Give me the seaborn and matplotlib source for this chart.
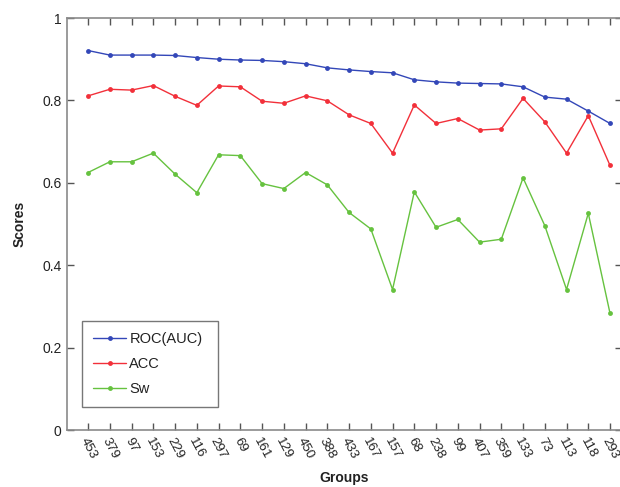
import matplotlib
matplotlib.use("Agg")
import matplotlib.pyplot as plt
import seaborn as sns
import pandas as pd

groups = ["453", "379", "97", "153", "229", "116", "297", "69", "161", "129",
          "450", "388", "433", "167", "157", "68", "238", "99", "407", "359",
          "133", "73", "113", "118", "293"]
roc_auc = [0.921, 0.910, 0.910, 0.910, 0.909, 0.904, 0.900, 0.898, 0.897, 0.894,
           0.889, 0.879, 0.874, 0.870, 0.867, 0.850, 0.845, 0.842, 0.841, 0.840,
           0.833, 0.808, 0.803, 0.774, 0.744]
acc = [0.811, 0.827, 0.825, 0.836, 0.810, 0.788, 0.835, 0.833, 0.798, 0.793,
       0.811, 0.799, 0.765, 0.744, 0.672, 0.789, 0.744, 0.756, 0.728, 0.731,
       0.805, 0.748, 0.672, 0.763, 0.642]
sw = [0.625, 0.651, 0.651, 0.672, 0.621, 0.576, 0.668, 0.666, 0.598, 0.586,
      0.625, 0.595, 0.528, 0.488, 0.341, 0.578, 0.492, 0.511, 0.456, 0.463,
      0.612, 0.496, 0.341, 0.526, 0.283]
series_names = ["ROC(AUC)", "ACC", "Sw"]
y_ticks = [0, 0.2, 0.4, 0.6, 0.8, 1.0]
y_tick_labels = ["0", "0.2", "0.4", "0.6", "0.8", "1"]

sns.set_style("ticks")
plt.rcParams["font.family"] = ["Liberation Sans", "DejaVu Sans"]

df = pd.DataFrame({
    "Groups": groups * 3,
    "Scores": roc_auc + acc + sw,
    "Metric": [series_names[0]] * len(groups) + [series_names[1]] * len(groups)
              + [series_names[2]] * len(groups),
})
df["pos"] = list(range(len(groups))) * 3

palette = {"ROC(AUC)": "#3347b8", "ACC": "#f2303a", "Sw": "#66c23f"}

fig = plt.figure(figsize=(6.2, 4.87), dpi=100)
ax = fig.add_axes([67 / 620, 1 - 430 / 487, (622 - 67) / 620, (430 - 18) / 487])

sns.lineplot(data=df, x="pos", y="Scores", hue="Metric", palette=palette,
             marker="o", markersize=3.5, markeredgewidth=0, linewidth=1.0,
             sort=False, ax=ax)

ax.set_xlim(-0.97, len(groups) - 0.45)
ax.set_ylim(0, 1)
ax.set_xticks(range(len(groups)))
ax.set_xticklabels(groups, rotation=-62, ha="center", va="top", fontsize=9.5)
ax.set_yticks(y_ticks)
ax.set_yticklabels(y_tick_labels)

spine_color = "#8a8a8a"
for s in ax.spines.values():
    s.set_visible(True)
    s.set_color(spine_color)
    s.set_linewidth(1.2)
ax.tick_params(direction="in", length=5, width=1, color="#555555",
               top=True, right=True, labelcolor="#222222", pad=4)
ax.tick_params(axis="y", labelsize=10)
for lbl in ax.get_xticklabels():
    lbl.set_fontsize(9.5)
ax.get_xticklabels()[-1].set_x(len(groups) - 1.15)

ax.set_xlabel("Groups", fontsize=10, fontweight="bold", color="#222222", labelpad=7)
ax.set_ylabel("Scores", fontsize=10, fontweight="bold", color="#222222", labelpad=11)

leg = ax.legend(loc="lower left", mode="expand",
                bbox_to_anchor=(15 / 555, 23 / 412, 136 / 555, 0),
                frameon=True, fancybox=False, fontsize=10.5, handlelength=2.3,
                handletextpad=0.2, labelspacing=0.75, borderpad=0.75,
                borderaxespad=0)
leg.get_frame().set_edgecolor("#555555")
leg.get_frame().set_linewidth(1.0)
for t in leg.get_texts():
    t.set_color("#222222")
leg.set_title(None)

fig.savefig("out.png", dpi=100)
